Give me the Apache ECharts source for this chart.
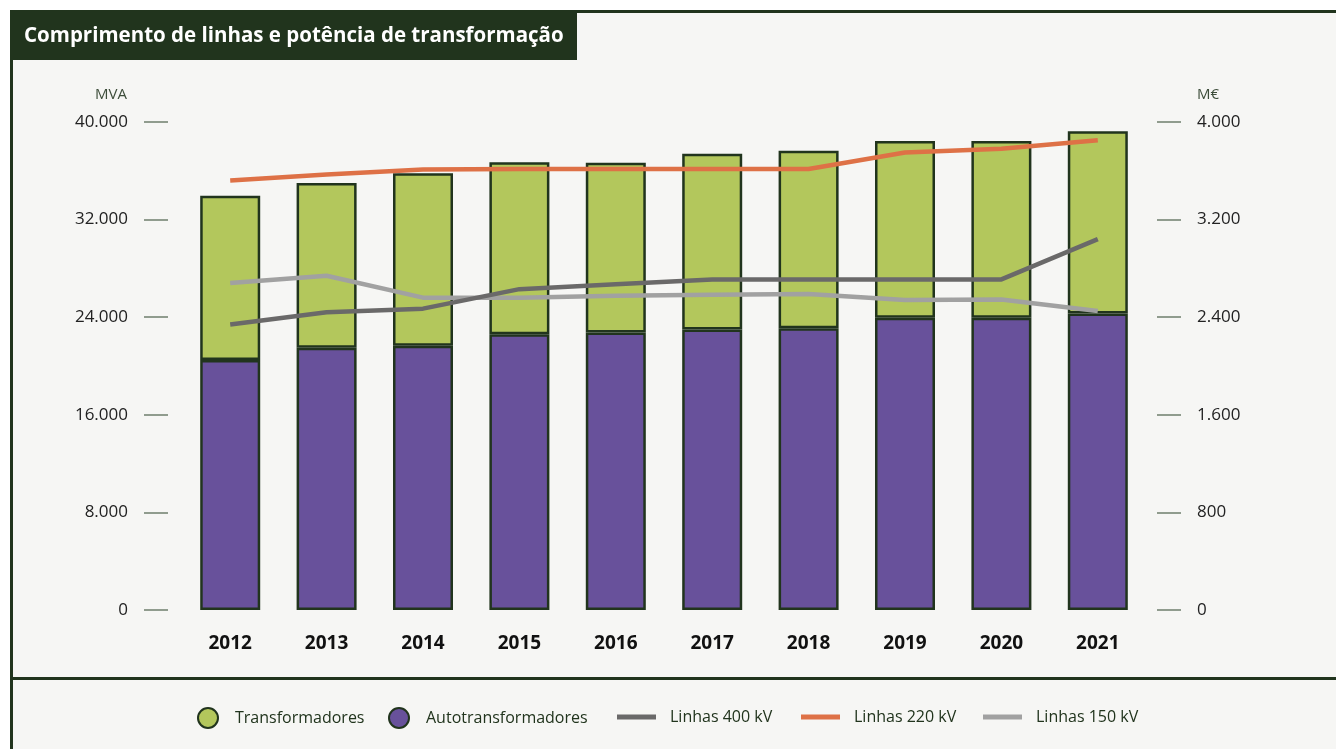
<!DOCTYPE html>
<html>
<head>
<meta charset="utf-8">
<style>
  html, body { margin: 0; padding: 0; background: #ffffff; }
  #chart { width: 1336px; height: 749px; }
</style>
<script src="https://cdn.jsdelivr.net/npm/echarts@6/dist/echarts.min.js"></script>
</head>
<body>
<div id="chart"></div>
<script>
const years = ['2012', '2013', '2014', '2015', '2016', '2017', '2018', '2019', '2020', '2021']
// MVA, left axis
const autotransformadores = [20500, 21500, 21650, 22600, 22750, 23000, 23100, 23950, 23950, 24300]
const transformadores = [13450, 13500, 14150, 14100, 13900, 14400, 14550, 14500, 14500, 14950]
// right axis
const linhas400 = [2340, 2440, 2470, 2630, 2670, 2710, 2710, 2710, 2710, 3040]
const linhas220 = [3520, 3570, 3610, 3615, 3615, 3615, 3615, 3750, 3780, 3850]
const linhas150 = [2680, 2740, 2560, 2560, 2575, 2585, 2590, 2540, 2545, 2450]

const dark = '#21341d'
const green = '#b3c75c'
const purple = '#68519b'
const font = 'Open Sans'

// flat bar icon for the line legends (corner points keep the 39x20 box)
const lineIcon = 'path://M0,0L0.01,0M0,7.5L39,7.5L39,12.5L0,12.5ZM0,20L0.01,20'

function thousands(v) {
  return String(v).replace(/\B(?=(\d{3})+(?!\d))/g, '.')
}

function legendItem(name, left, opts = {}) {
  return {
    data: [{ name, icon: opts.icon }],
    left,
    top: 707,
    padding: 0,
    itemWidth: opts.itemWidth || 39,
    itemHeight: 20,
    selectedMode: false,
    textStyle: {
      fontFamily: font,
      fontSize: 16,
      color: dark,
      padding: opts.textPad || 0,
    },
  }
}

const myChart = echarts.init(document.getElementById('chart'))

const yTick = {
  show: true,
  length: 24,
  lineStyle: { color: '#6f7f6c', width: 1.5 },
}

const option = {
  backgroundColor: 'transparent',
  animation: false,
  title: {
    text: 'Comprimento de linhas e potência de transformação',
    left: 24,
    top: 26,
    padding: 0,
    textStyle: { fontFamily: font, fontSize: 20.5, fontWeight: 'bold', color: '#ffffff' },
  },
  graphic: [
    { type: 'rect', z: -10, shape: { x: 10, y: 10, width: 1326, height: 739 }, style: { fill: '#f6f6f4' } },
    { type: 'rect', z: -5, shape: { x: 10, y: 10, width: 1326, height: 3 }, style: { fill: dark } },
    { type: 'rect', z: -5, shape: { x: 10, y: 10, width: 3, height: 739 }, style: { fill: dark } },
    { type: 'rect', z: -5, shape: { x: 10, y: 677, width: 1326, height: 3 }, style: { fill: dark } },
    { type: 'rect', z: -4, shape: { x: 10, y: 10, width: 567, height: 50 }, style: { fill: dark } },
  ],
  legend: [
    legendItem('Transformadores', 197, { icon: 'circle', itemWidth: 20, textPad: [0, 0, 0, 12] }),
    legendItem('Autotransformadores', 388, { icon: 'circle', itemWidth: 20, textPad: [0, 0, 0, 12] }),
    legendItem('Linhas 400 kV', 617, { icon: lineIcon, textPad: [0, 0, 0, 9] }),
    legendItem('Linhas 220 kV', 801, { icon: lineIcon, textPad: [0, 0, 0, 9] }),
    legendItem('Linhas 150 kV', 983, { icon: lineIcon, textPad: [0, 0, 0, 9] }),
  ],
  grid: { left: 182, right: 190, top: 122, bottom: 139 },
  xAxis: {
    type: 'category',
    data: years,
    axisLine: { show: false },
    axisTick: { show: false },
    axisLabel: { margin: 24, fontFamily: font, fontSize: 19, fontWeight: 'bold', color: '#111111' },
  },
  yAxis: [
    {
      type: 'value',
      min: 0,
      max: 40000,
      interval: 8000,
      offset: 14,
      name: 'MVA',
      nameGap: 20,
      nameTextStyle: { fontFamily: font, fontSize: 15, color: '#3d4d3a', align: 'right', padding: [0, 41, 0, 0] },
      axisLine: { show: false },
      axisTick: yTick,
      splitLine: { show: false },
      axisLabel: { margin: 40, fontFamily: font, fontSize: 17, color: '#222222', formatter: thousands },
    },
    {
      type: 'value',
      min: 0,
      max: 4000,
      interval: 800,
      offset: 11,
      name: 'M€',
      nameGap: 20,
      nameTextStyle: { fontFamily: font, fontSize: 15, color: '#3d4d3a', align: 'left', padding: [0, 0, 0, 40] },
      axisLine: { show: false },
      axisTick: yTick,
      splitLine: { show: false },
      axisLabel: { margin: 40, fontFamily: font, fontSize: 17, color: '#222222', formatter: thousands },
    },
  ],
  series: [
    {
      name: 'Autotransformadores',
      type: 'bar',
      stack: 'mva',
      barWidth: 60,
      data: autotransformadores,
      itemStyle: { color: purple, borderColor: dark, borderWidth: 2.5 },
    },
    {
      name: 'Transformadores',
      type: 'bar',
      stack: 'mva',
      barWidth: 60,
      data: transformadores,
      itemStyle: { color: green, borderColor: dark, borderWidth: 2.5 },
    },
    {
      name: 'Linhas 150 kV',
      type: 'line',
      yAxisIndex: 1,
      symbol: 'none',
      data: linhas150,
      color: '#a1a1a1',
      lineStyle: { width: 4.5, color: '#a1a1a1' },
      z: 3,
    },
    {
      name: 'Linhas 400 kV',
      type: 'line',
      yAxisIndex: 1,
      symbol: 'none',
      data: linhas400,
      color: '#6a6969',
      lineStyle: { width: 4.5, color: '#6a6969' },
      z: 4,
    },
    {
      name: 'Linhas 220 kV',
      type: 'line',
      yAxisIndex: 1,
      symbol: 'none',
      data: linhas220,
      color: '#de7146',
      lineStyle: { width: 4.5, color: '#de7146' },
      z: 5,
    },
  ],
}

myChart.setOption(option, true)
</script>
</body>
</html>
